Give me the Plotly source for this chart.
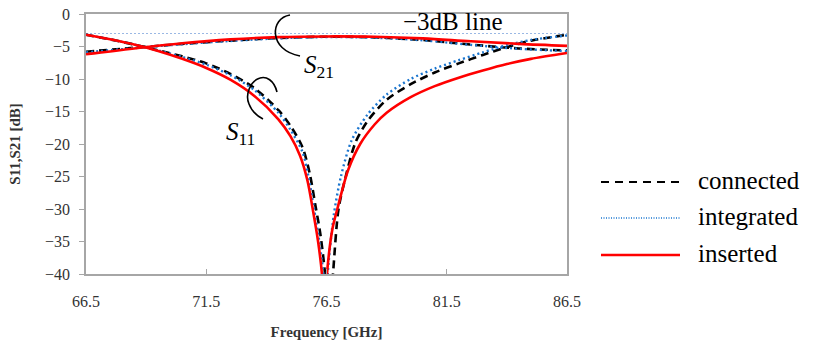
import plotly.graph_objects as go

# ---------------- data ----------------
# S11 (reflection), one frequency grid per configuration because the nulls differ
f_s11_connected = [66.5, 67.5, 68.5, 69.5, 70.5, 71.5, 72.5, 73.5, 74.5, 75.0, 75.5, 75.8,
                   76.05, 76.25, 76.44, 76.6, 76.77, 77.0, 77.3, 77.7, 78.2, 79.0, 80.0,
                   81.0, 82.0, 83.0, 84.0, 85.0, 86.5]
s11_connected = [-3.2, -3.9, -4.7, -5.6, -6.5, -7.6, -9.2, -11.4, -14.8, -17.2, -20.5, -24.5,
                 -29.7, -34.0, -40.0, -48.0, -40.0, -30.0, -25.0, -19.8, -16.5, -13.2, -10.8,
                 -9.0, -7.6, -6.3, -5.1, -4.1, -3.2]

f_s11_integrated = [66.5, 67.5, 68.5, 69.5, 70.5, 71.5, 72.5, 73.5, 74.5, 75.0, 75.5, 75.75,
                    75.97, 76.2, 76.37, 76.46, 76.55, 76.8, 77.1, 77.55, 78.2, 79.0, 80.0,
                    81.0, 82.0, 83.0, 84.0, 85.0, 86.5]
s11_integrated = [-3.2, -3.9, -4.7, -5.6, -6.6, -7.8, -9.4, -11.7, -15.2, -17.8, -21.2, -25.0,
                  -29.7, -35.0, -40.0, -48.0, -40.0, -31.0, -25.0, -19.4, -15.5, -12.4, -10.0,
                  -8.4, -7.1, -5.9, -4.8, -4.0, -3.3]

f_s11_inserted = [66.5, 67.5, 68.5, 69.5, 70.5, 71.5, 72.5, 73.5, 74.5, 75.0, 75.4, 75.7,
                  75.95, 76.15, 76.31, 76.42, 76.52, 76.75, 76.95, 77.4, 77.9, 78.5, 79.0,
                  80.0, 81.0, 82.0, 83.0, 84.0, 85.0, 86.5]
s11_inserted = [-3.2, -3.9, -4.7, -5.7, -6.9, -8.3, -10.1, -12.6, -16.2, -18.8, -21.8, -25.5,
                -30.5, -35.0, -40.0, -48.0, -40.0, -33.0, -30.0, -24.0, -20.0, -17.0, -15.2,
                -12.8, -11.1, -9.8, -8.7, -7.7, -6.9, -6.0]

# S21 (transmission), common grid
f_s21 = [66.5, 68.5, 70.5, 72.5, 74.5, 76.5, 78.5, 80.5, 82.5, 84.5, 86.5]
s21_connected = [-5.8, -5.2, -4.6, -4.1, -3.7, -3.5, -3.6, -4.0, -4.7, -5.3, -5.6]
s21_integrated = [-5.9, -5.25, -4.65, -4.15, -3.75, -3.55, -3.65, -4.05, -4.75, -5.35, -5.7]
s21_inserted = [-6.2, -5.3, -4.5, -3.9, -3.55, -3.45, -3.5, -3.75, -4.2, -4.6, -4.9]

threshold_db = -3.0
x_ticks = [66.5, 71.5, 76.5, 81.5, 86.5]
y_ticks = [0, -5, -10, -15, -20, -25, -30, -35, -40]
legend_names = ["connected", "integrated", "inserted"]

# ---------------- styles ----------------
SERIF = "Liberation Serif, Times New Roman, serif"
styles = {
    "connected": dict(color="#000000", width=2.6, dash="8px,5px"),
    "integrated": dict(color="#1a75cf", width=2.4, dash="2px,3px"),
    "inserted": dict(color="#ff0000", width=2.6, dash="solid"),
}

fig = go.Figure()

# -3 dB reference line
fig.add_trace(go.Scatter(x=[x_ticks[0], x_ticks[-1]], y=[threshold_db, threshold_db],
                         mode="lines", line=dict(color="#9ab8e4", width=1.2, dash="2px,2px"),
                         showlegend=False, hoverinfo="skip"))

series = [
    ("connected", f_s11_connected, s11_connected, s21_connected),
    ("integrated", f_s11_integrated, s11_integrated, s21_integrated),
    ("inserted", f_s11_inserted, s11_inserted, s21_inserted),
]
for name, f11, v11, v21 in series:
    st = styles[name]
    fig.add_trace(go.Scatter(x=f11, y=v11, mode="lines", name=name,
                             line=dict(**st, shape="spline", smoothing=0.8), showlegend=False))
    fig.add_trace(go.Scatter(x=f_s21, y=v21, mode="lines", name=name,
                             line=dict(**st, shape="spline", smoothing=1.0), showlegend=False))

# ---------------- layout ----------------
W, H = 817, 345
L, R, T, B = 86, 250, 14, 71
PW, PH = W - L - R, H - T - B  # 481 x 260

fig.update_layout(
    width=W, height=H,
    margin=dict(l=L, r=R, t=T, b=B, autoexpand=False),
    paper_bgcolor="white", plot_bgcolor="white",
    font=dict(family=SERIF, color="#222222"),
    showlegend=False,
)
fig.update_xaxes(
    range=[66.5, 86.5], tickvals=x_ticks, ticktext=[f"{v:.1f}" for v in x_ticks],
    showgrid=False, zeroline=False, showline=True, mirror=True,
    linecolor="#a6a6a6", linewidth=1.6,
    ticks="inside", ticklen=5, tickcolor="#a6a6a6",
    tickfont=dict(size=16, family=SERIF, color="#333333"),
    ticklabelstandoff=12,
    title=dict(text="<b>Frequency [GHz]</b>", font=dict(size=15, family=SERIF, color="#333333"), standoff=17),
    automargin=False,
)
fig.update_yaxes(
    range=[-40, 0], tickvals=y_ticks,
    showgrid=False, zeroline=False, showline=True, mirror=True,
    linecolor="#a6a6a6", linewidth=1.6,
    ticks="outside", ticklen=5, tickcolor="#a6a6a6",
    tickfont=dict(size=16, family=SERIF, color="#333333"),
    ticklabelstandoff=6,
    title=dict(text="<b>S11,S21 [dB]</b>", font=dict(size=15, family=SERIF, color="#333333"), standoff=21),
    automargin=False,
)

# ---------------- annotations: arcs and labels ----------------
# helpers take pixel positions of the reference picture
def px2x(px):
    return 66.5 + (px - L) / (PW / 20)

def py2y(py):
    return -(py - T) / (PH / 40)

def path_from(points):
    pts = [(px2x(a), py2y(b)) for a, b in points]
    d = f"M {pts[0][0]},{pts[0][1]}"
    for i in range(1, len(pts), 3):
        (x1, y1), (x2, y2), (x3, y3) = pts[i], pts[i + 1], pts[i + 2]
        d += f" C {x1},{y1} {x2},{y2} {x3},{y3}"
    return d

arc_s21 = [(290, 15), (270, 18), (268, 50), (300, 56)]
arc_s11 = [(277, 92), (274, 80), (266, 76), (260, 78),
           (250, 81), (245, 95), (249, 104),
           (252, 112), (257, 116), (263, 119)]
for arc in (arc_s21, arc_s11):
    fig.add_shape(type="path", path=path_from(arc), xref="x", yref="y",
                  line=dict(color="black", width=1.6))

fig.add_annotation(x=px2x(302), y=py2y(66), xref="x", yref="y", text="<i>S</i><sub>21</sub>",
                   showarrow=False, xanchor="left", yanchor="middle",
                   font=dict(size=25, family=SERIF, color="black"))
fig.add_annotation(x=px2x(224), y=py2y(133), xref="x", yref="y", text="<i>S</i><sub>11</sub>",
                   showarrow=False, xanchor="left", yanchor="middle",
                   font=dict(size=25, family=SERIF, color="black"))
fig.add_annotation(x=px2x(453), y=py2y(21), xref="x", yref="y", text="\u22123dB line",
                   showarrow=False, xanchor="center", yanchor="middle",
                   font=dict(size=25, family=SERIF, color="black"))

# ---------------- custom legend ----------------
def pxx(px):
    return (px - L) / PW

def pyy(py):
    return (H - B - py) / PH

legend_rows = [182, 218, 255]
legend_line_styles = {
    "connected": dict(color="#000000", width=2, dash="8px,6px"),
    "integrated": dict(color="#1a75cf", width=1.4, dash="1px,1.5px"),
    "inserted": dict(color="#ff0000", width=2.6, dash="solid"),
}
for name, row in zip(legend_names, legend_rows):
    fig.add_shape(type="line", xref="paper", yref="paper",
                  x0=pxx(601), x1=pxx(680), y0=pyy(row), y1=pyy(row),
                  line=legend_line_styles[name])
    fig.add_annotation(x=pxx(696), y=pyy(row - 2), xref="paper", yref="paper", text=name,
                       showarrow=False, xanchor="left", yanchor="middle",
                       font=dict(size=25, family=SERIF, color="black"))

# remove the page's default 8px body margin so the figure fills the window exactly
fig.write_html("out.html", config={"displayModeBar": False},
               post_script="document.body.style.margin='0';")
